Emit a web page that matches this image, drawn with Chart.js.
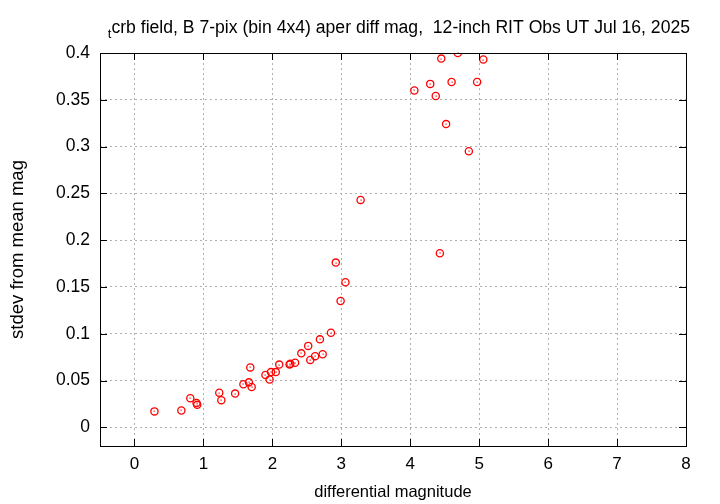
<!DOCTYPE html>
<html>
<head>
<meta charset="UTF-8">
<title>stdev vs differential magnitude</title>
<script src="https://cdn.jsdelivr.net/npm/chart.js"></script>
<style>
  body { margin: 0; background: #fff; }
  #wrap { width: 720px; height: 504px; }
</style>
</head>
<body>
<div id="wrap"><canvas id="chart" width="720" height="504"></canvas></div>
<script>
// differential magnitude of each star
const diffMag = [0.29, 0.68, 0.81, 0.90, 0.91, 1.23, 1.26, 1.46, 1.58, 1.66, 1.68, 1.70,
  1.90, 1.96, 1.98, 2.05, 2.10, 2.25, 2.26, 2.33, 2.42, 2.52, 2.55, 2.62, 2.69, 2.73,
  2.85, 2.92, 2.99, 3.06, 3.28, 4.06, 4.29, 4.37, 4.43, 4.45, 4.52, 4.60, 4.69, 4.85,
  4.97, 5.06];
// stdev from mean mag
const stdev = [0.017, 0.018, 0.031, 0.026, 0.024, 0.037, 0.029, 0.036, 0.046, 0.048, 0.064, 0.043,
  0.056, 0.051, 0.059, 0.059, 0.067, 0.067, 0.068, 0.069, 0.079, 0.087, 0.072, 0.076, 0.094, 0.078,
  0.101, 0.176, 0.135, 0.155, 0.243, 0.360, 0.367, 0.354, 0.186, 0.394, 0.324, 0.369, 0.400, 0.295,
  0.369, 0.393];

const xTicks = [0, 1, 2, 3, 4, 5, 6, 7, 8];
const yTicks = [0, 0.05, 0.1, 0.15, 0.2, 0.25, 0.3, 0.35, 0.4];

const points = diffMag.map((x, i) => ({ x: x, y: stdev[i] }));
const FONT = '"Liberation Sans", Arial, sans-serif';

// frame, inward ticks, centre dots and the title
const gnuplotLook = {
  id: 'gnuplotLook',
  afterDatasetsDraw(chart) {
    const ctx = chart.ctx;
    const a = chart.chartArea;
    const xs = chart.scales.x, ys = chart.scales.y;
    ctx.save();
    // centre dots
    ctx.fillStyle = '#ff0000';
    chart.getDatasetMeta(0).data.forEach(p => {
      ctx.fillRect(Math.round(p.x) - 0.5, Math.round(p.y) - 0.5, 1.2, 1.2);
    });
    // frame
    ctx.strokeStyle = '#000';
    ctx.lineWidth = 1;
    ctx.strokeRect(Math.round(a.left) + 0.5, Math.round(a.top) + 0.5,
      Math.round(a.right - a.left), Math.round(a.bottom - a.top));
    // ticks inward on all sides
    ctx.beginPath();
    xTicks.forEach(v => {
      const px = Math.round(xs.getPixelForValue(v)) + 0.5;
      ctx.moveTo(px, a.bottom); ctx.lineTo(px, a.bottom - 7);
      ctx.moveTo(px, a.top); ctx.lineTo(px, a.top + 7);
    });
    yTicks.forEach(v => {
      const py = Math.round(ys.getPixelForValue(v)) + 0.5;
      ctx.moveTo(a.left, py); ctx.lineTo(a.left + 7, py);
      ctx.moveTo(a.right, py); ctx.lineTo(a.right - 7, py);
    });
    ctx.stroke();
    // title with subscript t
    const main = 'crb field, B 7-pix (bin 4x4) aper diff mag,  12-inch RIT Obs UT Jul 16, 2025';
    ctx.fillStyle = '#000';
    ctx.textBaseline = 'alphabetic';
    ctx.font = '17.6px ' + FONT;
    const wMain = ctx.measureText(main).width;
    ctx.font = '13px ' + FONT;
    const wSub = ctx.measureText('t').width;
    const x0 = 690 - wMain - wSub;
    ctx.textAlign = 'left';
    ctx.fillText('t', x0, 38);
    ctx.font = '17.6px ' + FONT;
    ctx.fillText(main, x0 + wSub, 33);
    ctx.restore();
  }
};

new Chart(document.getElementById('chart'), {
  type: 'scatter',
  data: {
    datasets: [{
      data: points,
      pointStyle: 'circle',
      pointRadius: 3.6,
      pointHoverRadius: 3.6,
      pointBorderWidth: 1.3,
      borderColor: '#ff0000',
      backgroundColor: 'rgba(0,0,0,0)'
    }]
  },
  options: {
    responsive: false,
    animation: false,
    events: [],
    layout: { padding: { left: 0, right: 34, top: 53, bottom: 0 } },
    plugins: { legend: { display: false }, tooltip: { enabled: false }, title: { display: false } },
    scales: {
      x: {
        type: 'linear',
        min: -0.5, max: 8,
        afterBuildTicks: s => { s.ticks = xTicks.map(v => ({ value: v })); },
        afterFit: s => { s.height = 58; },
        ticks: { color: '#000', font: { family: FONT, size: 17 }, padding: 8, maxRotation: 0,
          callback: v => String(v) },
        grid: { color: '#b0b0b0', drawTicks: false, lineWidth: 1 },
        border: { display: false, dash: [2, 3] },
        title: { display: true, text: 'differential magnitude', color: '#000',
          font: { family: FONT, size: 16.5 }, padding: { top: 4, bottom: 2 } }
      },
      y: {
        type: 'linear',
        min: -0.02, max: 0.4,
        afterBuildTicks: s => { s.ticks = yTicks.map(v => ({ value: v })); },
        afterFit: s => { s.width = 100; },
        ticks: { color: '#000', font: { family: FONT, size: 17.5 }, padding: 10,
          callback: v => String(+v.toFixed(2)) },
        grid: { color: '#b0b0b0', drawTicks: false, lineWidth: 1 },
        border: { display: false, dash: [2, 3] },
        title: { display: true, text: 'stdev from mean mag', color: '#000',
          font: { family: FONT, size: 18.5 }, padding: { top: 7, bottom: 0 } }
      }
    }
  },
  plugins: [gnuplotLook]
});
</script>
</body>
</html>
